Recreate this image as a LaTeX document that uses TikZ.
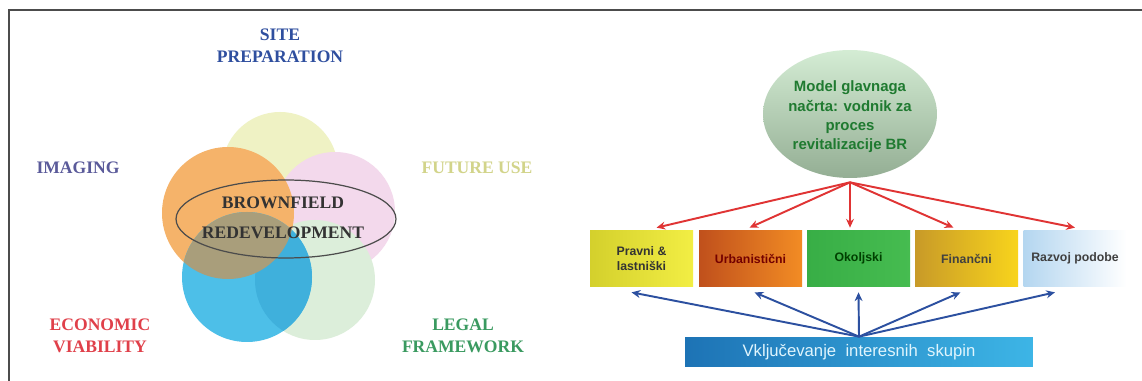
\documentclass[tikz,border=0pt]{standalone}
\usepackage{fontspec}
\setmainfont{Liberation Serif}
\newfontfamily\sansf{Liberation Sans}
\usetikzlibrary{shapes.geometric,arrows.meta,calc}
\definecolor{cyel}{HTML}{EFF2C4}
\definecolor{cpink}{HTML}{F3D9EC}
\definecolor{cgreen}{HTML}{DCEEDA}
\definecolor{corange}{HTML}{F5B36A}
\definecolor{cblue}{HTML}{4DBFE8}
\definecolor{colive}{HTML}{A99E7B}
\definecolor{cbg}{HTML}{3FB0DC}
\definecolor{tsite}{HTML}{2F4F9F}
\definecolor{timg}{HTML}{5A5A9A}
\definecolor{tfut}{HTML}{D2D48A}
\definecolor{teco}{HTML}{E0404A}
\definecolor{tleg}{HTML}{3A9A60}
\definecolor{tmodel}{HTML}{1F7A30}
\definecolor{redarr}{HTML}{E03434}
\definecolor{bluearr}{HTML}{2C50A0}
\definecolor{mtop}{HTML}{D4ECD4}
\definecolor{mmid}{HTML}{C2DEC2}
\definecolor{mbot}{HTML}{94AE94}
\definecolor{b1l}{HTML}{D4D02C}
\definecolor{b1r}{HTML}{F2EE44}
\definecolor{b2l}{HTML}{C0501C}
\definecolor{b2r}{HTML}{F28C24}
\definecolor{b3l}{HTML}{38AE46}
\definecolor{b3r}{HTML}{46BC50}
\definecolor{b4l}{HTML}{C89A28}
\definecolor{b4r}{HTML}{F8D41C}
\definecolor{b5l}{HTML}{B4D6F0}
\definecolor{barl}{HTML}{1D73B5}
\definecolor{barr}{HTML}{3DB5E6}
\tikzset{
  lbl/.style={font=\bfseries\fontsize{10}{12.5}\selectfont, align=center, inner sep=0pt},
  boxnode/.style={minimum width=2.06cm, minimum height=1.14cm, inner sep=1pt, align=center,
    font=\sansf\bfseries\fontsize{7}{8.5}\selectfont},
  redline/.style={draw=redarr, line width=1.1pt, -{Stealth[length=5pt,width=4.5pt]}},
  blueline/.style={draw=bluearr, line width=1.1pt, -{Stealth[length=5pt,width=4.5pt]}},
}
\begin{document}
\begin{tikzpicture}[x=0.02cm,y=-0.02cm]
\useasboundingbox (0,0) rectangle (1142,381);
\fill[white] (0,0) rectangle (1142,381);
\draw[line width=1.1pt, draw=black!70] (1142,10) -- (9,10) -- (9,381);

% Venn circles
\fill[cyel] (280,170) circle[radius=58];
\fill[cpink] (335,212) circle[radius=60];
\fill[cgreen] (315,280) circle[radius=60];
\fill[corange] (228,213) circle[radius=66];
\fill[cblue] (247,277) circle[radius=65];
\begin{scope}
  \clip (315,280) circle[radius=60];
  \fill[cbg] (247,277) circle[radius=65];
\end{scope}
\begin{scope}
  \clip (228,213) circle[radius=66];
  \fill[colive] (247,277) circle[radius=65];
\end{scope}

\node[draw=black!70, line width=0.7pt, ellipse, minimum width=4.4cm, minimum height=1.56cm, inner sep=0pt] (bf) at (286,219) {};
\node[lbl, text=black!80] (bf1) at (283,203) {BROWNFIELD};
\node[lbl, text=black!80] (bf2) at (283,233) {REDEVELOPMENT};

\node[lbl, text=tsite] (site) at (280,46) {SITE\\PREPARATION};
\node[lbl, text=timg] (img) at (78,168) {IMAGING};
\node[lbl, text=tfut] (fut) at (477,168) {FUTURE USE};
\node[lbl, text=teco] (eco) at (100,336) {ECONOMIC\\VIABILITY};
\node[lbl, text=tleg] (leg) at (463,336) {LEGAL\\FRAMEWORK};

% Right part
\node[ellipse, minimum width=3.48cm, minimum height=2.56cm, inner sep=0pt,
  top color=mtop, middle color=mmid, bottom color=mbot] (model) at (850,114) {};
\node[font=\sansf\bfseries\fontsize{8.5}{11}\selectfont, text=tmodel, align=center, inner sep=0pt] (modeltext) at (850,117)
  {Model glavnaga\\načrta: vodnik za\\proces\\revitalizacije BR};

\node[boxnode, left color=b1l, right color=b1r, text=black!80] (b1) at (641.5,258.5) {Pravni \&\\lastniški};
\node[boxnode, left color=b2l, right color=b2r, text=red!45!black] (b2) at (750.5,258.5) {Urbanistični};
\node[boxnode, left color=b3l, right color=b3r, text=green!25!black] (b3) at (858.5,258.5) {Okoljski};
\node[boxnode, left color=b4l, right color=b4r, text=black!75] (b4) at (966.5,258.5) {Finančni};
\node[boxnode, left color=b5l, right color=white, text=black!75] (b5) at (1075,258.5) {Razvoj podobe};

\node[minimum width=6.96cm, minimum height=0.6cm, inner sep=0pt, left color=barl, right color=barr,
  text=white!88!cyan, font=\sansf\fontsize{9.5}{11}\selectfont] (bar) at (859,352) {Vključevanje\ \ interesnih\ \ skupin};

\coordinate (rtop) at ($(model.south)+(0,4)$);
\draw[redline] (rtop) -- ($(b1.north)+(15,-2)$);
\draw[redline] (rtop) -- ($(b2.north)+(-1,-2)$);
\draw[redline] (rtop) -- ($(b3.north)+(-8.5,-2)$);
\draw[redline] (rtop) -- ($(b4.north)+(-13,-2)$);
\draw[redline] (rtop) -- ($(b5.north)+(0,-2)$);

\draw[blueline] (bar.north) -- ($(b1.south)+(-10,5)$);
\draw[blueline] (bar.north) -- ($(b2.south)+(4,5)$);
\draw[blueline] (bar.north) -- ($(b3.south)+(0,5)$);
\draw[blueline] (bar.north) -- ($(b4.south)+(-6,5)$);
\draw[blueline] (bar.north) -- ($(b5.south)+(-20,5)$);
\end{tikzpicture}
\end{document}
